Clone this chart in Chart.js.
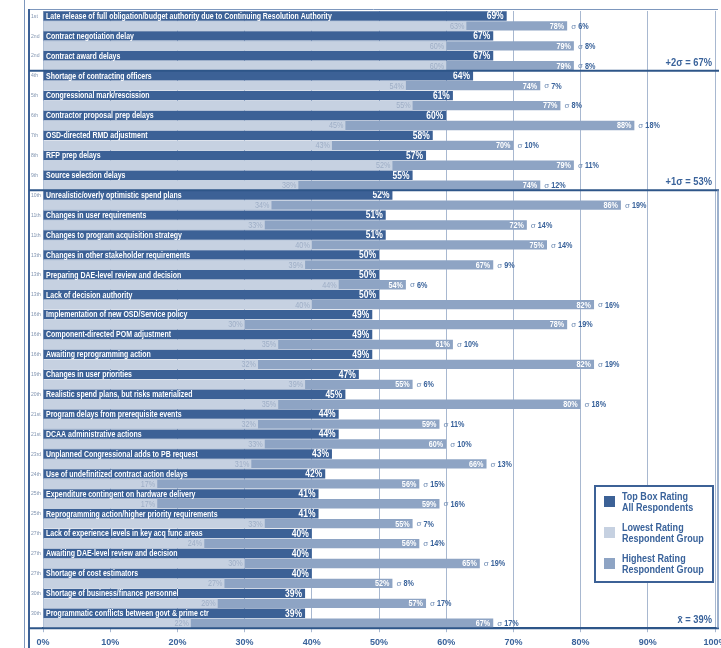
<!DOCTYPE html>
<html>
<head>
<meta charset="utf-8">
<script src="https://cdn.jsdelivr.net/npm/chart.js@4.4.1/dist/chart.umd.min.js"></script>
<style>
  html, body { margin: 0; padding: 0; background: #fff; overflow: hidden; }
  #wrap { width: 721px; height: 660px; }
</style>
</head>
<body>
<div id="wrap"><canvas id="chart" width="721" height="660"></canvas></div>
<script>
const categories = [
  "Late release of full obligation/budget authority due to Continuing Resolution Authority",
  "Contract negotiation delay",
  "Contract award delays",
  "Shortage of contracting officers",
  "Congressional mark/rescission",
  "Contractor proposal prep delays",
  "OSD-directed RMD adjustment",
  "RFP prep delays",
  "Source selection delays",
  "Unrealistic/overly optimistic spend plans",
  "Changes in user requirements",
  "Changes to program acquisition strategy",
  "Changes in other stakeholder requirements",
  "Preparing DAE-level review and decision",
  "Lack of decision authority",
  "Implementation of new OSD/Service policy",
  "Component-directed POM adjustment",
  "Awaiting reprogramming action",
  "Changes in user priorities",
  "Realistic spend plans, but risks materialized",
  "Program delays from prerequisite events",
  "DCAA administrative actions",
  "Unplanned Congressional adds to PB request",
  "Use of undefinitized contract action delays",
  "Expenditure contingent on hardware delivery",
  "Reprogramming action/higher priority requirements",
  "Lack of experience levels in key acq func areas",
  "Awaiting DAE-level review and decision",
  "Shortage of cost estimators",
  "Shortage of business/finance personnel",
  "Programmatic conflicts between govt & prime ctr"
];
const ranks = ["1st","2nd","2nd","4th","5th","6th","7th","8th","9th","10th","11th","11th","13th","13th","13th",
  "16th","16th","16th","19th","20th","21st","21st","23rd","24th","25th","25th","27th","27th","27th","30th","30th"];
const topBox  = [69, 67, 67, 64, 61, 60, 58, 57, 55, 52, 51, 51, 50, 50, 50, 49, 49, 49, 47, 45, 44, 44, 43, 42, 41, 41, 40, 40, 40, 39, 39];
const lowest  = [63, 60, 60, 54, 55, 45, 43, 52, 38, 34, 33, 40, 39, 44, 40, 30, 35, 32, 39, 35, 32, 33, 31, 17, 17, 33, 24, 30, 27, 26, 22];
const highest = [78, 79, 79, 74, 77, 88, 70, 79, 74, 86, 72, 75, 67, 54, 82, 78, 61, 82, 55, 80, 59, 60, 66, 56, 59, 55, 56, 65, 52, 57, 67];
const sigma   = [6, 8, 8, 7, 8, 18, 10, 11, 12, 19, 14, 14, 9, 6, 16, 19, 10, 19, 6, 18, 11, 10, 13, 15, 16, 7, 14, 19, 8, 17, 17];
const legendLabels = [["Top Box Rating", "All Respondents"], ["Lowest Rating", "Respondent Group"], ["Highest Rating", "Respondent Group"]];
// reference lines: after which category, and text
const bands = [
  { after: 2, text: "+2\u03C3 = 67%" },
  { after: 8, text: "+1\u03C3 = 53%" },
  { after: 30, text: "x\u0304 = 39%" }
];

const DARK = "#3c6196";
const LIGHT = "#c6d1e1";
const MID = "#8ea4c4";
const TEXT_BLUE = "#3a639b";
const FONT = '"Liberation Sans", Arial, sans-serif';

// condensed text (the original uses a narrow face)
function text(ctx, str, x, y, sx) {
  ctx.save();
  ctx.translate(x, y);
  ctx.scale(sx, 1);
  ctx.fillText(str, 0, 0);
  ctx.restore();
}

const overlay = {
  id: "overlay",
  afterDatasetsDraw(chart) {
    const ctx = chart.ctx;
    const area = chart.chartArea;
    const dark = chart.getDatasetMeta(0).data;
    const light = chart.getDatasetMeta(1).data;
    const mid = chart.getDatasetMeta(2).data;
    ctx.save();
    ctx.textBaseline = "middle";
    categories.forEach((name, i) => {
      // category name inside dark bar
      ctx.font = "bold 8.5px " + FONT;
      ctx.fillStyle = "#ffffff";
      ctx.textAlign = "left";
      text(ctx, name, area.left + 3, dark[i].y + 0.5, 0.82);
      // top box value
      ctx.font = "bold 10px " + FONT;
      ctx.textAlign = "right";
      text(ctx, topBox[i] + "%", dark[i].x - 3, dark[i].y + 0.5, 0.85);
      // highest value
      ctx.font = "bold 8.5px " + FONT;
      text(ctx, highest[i] + "%", mid[i].x - 3, mid[i].y + 0.5, 0.85);
      // lowest value
      ctx.fillStyle = "#9eaec6";
      ctx.font = "8.5px " + FONT;
      text(ctx, lowest[i] + "%", light[i].x - 2, light[i].y + 0.5, 0.85);
      // sigma
      ctx.textAlign = "left";
      ctx.fillStyle = "#6f8cb4";
      ctx.font = "8px " + FONT;
      text(ctx, "\u03C3", mid[i].x + 4, mid[i].y + 0.5, 1);
      ctx.fillStyle = TEXT_BLUE;
      ctx.font = "bold 8.5px " + FONT;
      text(ctx, sigma[i] + "%", mid[i].x + 11, mid[i].y + 0.5, 0.85);
      // rank
      ctx.fillStyle = "#8194b0";
      ctx.font = "6px " + FONT;
      text(ctx, ranks[i], 31, dark[i].y, 0.85);
    });
    ctx.restore();
  },
  afterDraw(chart) {
    const ctx = chart.ctx;
    const area = chart.chartArea;
    const y = chart.scales.y;
    ctx.save();
    // frame
    ctx.strokeStyle = "#7d97bd";
    ctx.lineWidth = 1;
    ctx.beginPath();
    ctx.moveTo(29, area.top - 1.5);
    ctx.lineTo(718, area.top - 1.5);
    ctx.stroke();
    ctx.beginPath();
    ctx.moveTo(24.5, 0);
    ctx.lineTo(24.5, 660);
    ctx.stroke();
    ctx.strokeStyle = DARK;
    ctx.lineWidth = 2;
    ctx.beginPath();
    ctx.moveTo(29, area.top - 2);
    ctx.lineTo(29, 660);
    ctx.stroke();
    // band lines + labels
    bands.forEach((b) => {
      const yy = b.after + 1 < categories.length
        ? (y.getPixelForValue(b.after) + y.getPixelForValue(b.after + 1)) / 2
        : area.bottom;
      ctx.strokeStyle = "#2e5689";
      ctx.lineWidth = 2;
      ctx.beginPath();
      ctx.moveTo(29, yy);
      ctx.lineTo(719, yy);
      ctx.stroke();
      ctx.fillStyle = TEXT_BLUE;
      ctx.font = "bold 11px " + FONT;
      ctx.textAlign = "right";
      ctx.textBaseline = "alphabetic";
      text(ctx, b.text, 712, yy - 5, 0.85);
    });
    // right frame of lower section
    const y1 = (y.getPixelForValue(bands[1].after) + y.getPixelForValue(bands[1].after + 1)) / 2;
    ctx.strokeStyle = "#7d97bd";
    ctx.lineWidth = 1.5;
    ctx.beginPath();
    ctx.moveTo(718, y1);
    ctx.lineTo(718, area.bottom);
    ctx.stroke();

    // legend
    const lx = 595, ly = 486, lw = 118, lh = 96;
    ctx.fillStyle = "#ffffff";
    ctx.fillRect(lx, ly, lw, lh);
    ctx.strokeStyle = DARK;
    ctx.lineWidth = 2;
    ctx.strokeRect(lx, ly, lw, lh);
    const colors = [DARK, LIGHT, MID];
    legendLabels.forEach((lines, k) => {
      const cy = ly + 16 + k * 31;
      ctx.fillStyle = colors[k];
      ctx.fillRect(lx + 9, cy - 6, 11, 11);
      ctx.fillStyle = TEXT_BLUE;
      ctx.font = "bold 11px " + FONT;
      ctx.textAlign = "left";
      ctx.textBaseline = "middle";
      text(ctx, lines[0], lx + 27, cy - 5, 0.82);
      text(ctx, lines[1], lx + 27, cy + 6, 0.82);
    });
    ctx.restore();
  }
};

new Chart(document.getElementById("chart").getContext("2d"), {
  type: "bar",
  data: {
    labels: categories,
    datasets: [
      { label: "Top Box Rating All Respondents", data: topBox, backgroundColor: DARK, stack: "top" },
      { label: "Lowest Rating Respondent Group", data: lowest, backgroundColor: LIGHT, stack: "group" },
      { label: "Highest Rating Respondent Group", data: highest, backgroundColor: MID, stack: "group" }
    ]
  },
  options: {
    indexAxis: "y",
    responsive: false,
    animation: false,
    categoryPercentage: 1.0,
    barPercentage: 0.94,
    layout: { padding: { top: 11, left: 43, right: 6, bottom: 7 } },
    plugins: {
      legend: { display: false },
      tooltip: { enabled: false }
    },
    scales: {
      y: { display: false },
      x: {
        stacked: false,
        min: 0,
        max: 100,
        ticks: {
          stepSize: 10,
          callback: v => v + "%",
          color: TEXT_BLUE,
          font: { family: FONT, size: 9, weight: "bold" },
          padding: 5,
          maxRotation: 0
        },
        grid: { color: "#a8b8d0", lineWidth: 1, tickLength: 4 },
        border: { color: "#2e5689", width: 2 },
        afterFit(scale) {
          scale.paddingLeft = 0;
          scale.paddingRight = 0;
        }
      }
    }
  },
  plugins: [overlay]
});
</script>
</body>
</html>
